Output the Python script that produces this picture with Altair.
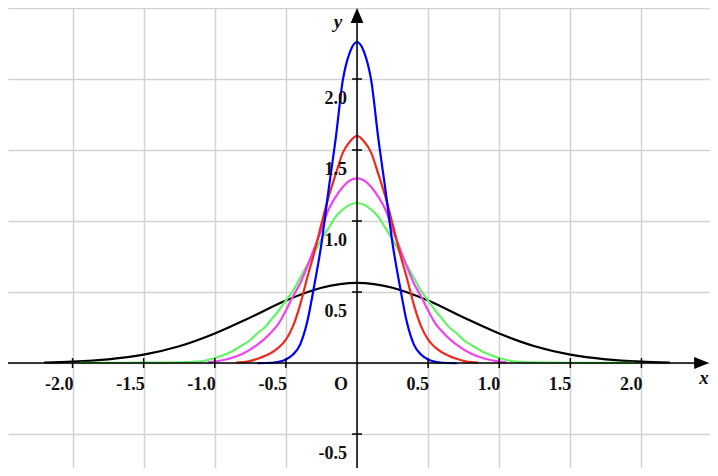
import altair as alt
import pandas as pd

# ---- curve data (right half; curves are symmetric) ----
blue_x = [0, 0.05, 0.10, 0.15, 0.20, 0.25, 0.30, 0.35, 0.40, 0.45, 0.50, 0.55, 0.60, 0.70]
blue_y = [2.26, 2.19, 1.99, 1.58, 1.22, 0.84, 0.55, 0.29, 0.13, 0.06, 0.025, 0.008, 0.002, 0.0]

red_x = [0, 0.05, 0.10, 0.15, 0.20, 0.25, 0.30, 0.35, 0.40, 0.45, 0.50, 0.55, 0.60, 0.70, 0.77, 0.85]
red_y = [1.60, 1.56, 1.48, 1.33, 1.17, 0.98, 0.78, 0.60, 0.41, 0.26, 0.165, 0.11, 0.074, 0.03, 0.01, 0.003]

magenta_x = [0, 0.05, 0.10, 0.15, 0.20, 0.25, 0.30, 0.35, 0.40, 0.45, 0.50, 0.55, 0.60, 0.65, 0.70, 0.80, 0.90, 1.00, 1.05]
magenta_y = [1.30, 1.285, 1.24, 1.17, 1.08, 0.94, 0.81, 0.68, 0.56, 0.47, 0.37, 0.28, 0.22, 0.17, 0.13, 0.067, 0.03, 0.01, 0.005]

green_x = [0, 0.05, 0.10, 0.15, 0.20, 0.25, 0.30, 0.35, 0.40, 0.45, 0.50, 0.55, 0.60, 0.65, 0.70, 0.75, 0.80, 0.90, 1.00, 1.10, 1.30, 1.60, 1.95]
green_y = [1.127, 1.115, 1.08, 1.03, 0.95, 0.87, 0.78, 0.69, 0.60, 0.51, 0.44, 0.37, 0.31, 0.25, 0.21, 0.162, 0.13, 0.072, 0.035, 0.012, 0.004, 0.002, 0.001]

black_x = [0, 0.25, 0.50, 0.75, 1.00, 1.25, 1.50, 1.75, 2.00, 2.20]
black_y = [0.564, 0.530, 0.440, 0.321, 0.208, 0.118, 0.059, 0.026, 0.010, 0.004]

series = [
    ("black", black_x, black_y, "#000000"),
    ("green", green_x, green_y, "#66f266"),
    ("magenta", magenta_x, magenta_y, "#ee44ee"),
    ("red", red_x, red_y, "#ee2a1e"),
    ("blue", blue_x, blue_y, "#0000ff"),
]

grid_vals = [-2.5, -2.0, -1.5, -1.0, -0.5, 0.0, 0.5, 1.0, 1.5, 2.0, 2.5]
x_tick_vals = [-2.0, -1.5, -1.0, -0.5, 0.5, 1.0, 1.5, 2.0]
x_tick_text = ["-2.0", "-1.5", "-1.0", "-0.5", "0.5", "1.0", "1.5", "2.0"]
y_tick_vals = [-0.5, 0.5, 1.0, 1.5, 2.0]
y_tick_text = ["-0.5", "0.5", "1.0", "1.5", "2.0"]

XMIN, XMAX = -2.454, 2.482
YMIN, YMAX = -0.739, 2.5
W, H = 702, 460

xs = alt.Scale(domain=[XMIN, XMAX], nice=False, zero=False)
ys = alt.Scale(domain=[YMIN, YMAX], nice=False, zero=False)
grid_axis = alt.Axis(values=grid_vals, grid=True, gridColor="#d2d2d2", gridWidth=1.5,
                     labels=False, ticks=False, domain=False, title=None)

FONT = "Liberation Serif"

layers = []
first = True
for name, hx, hy, col in series:
    xx = [-v for v in reversed(hx[1:])] + hx
    yy = list(reversed(hy[1:])) + hy
    df = pd.DataFrame({"x": xx, "y": yy})
    if first:
        enc_x = alt.X("x:Q", scale=xs, axis=grid_axis)
        enc_y = alt.Y("y:Q", scale=ys, axis=grid_axis)
        first = False
    else:
        enc_x = alt.X("x:Q", scale=xs)
        enc_y = alt.Y("y:Q", scale=ys)
    layers.append(
        alt.Chart(df).mark_line(color=col, strokeWidth=2.2, interpolate="monotone", clip=True)
        .encode(x=enc_x, y=enc_y, order="x:Q")
    )

# axis lines
xaxis_df = pd.DataFrame({"x": [XMIN], "x2": [2.40], "y": [0.0]})
yaxis_df = pd.DataFrame({"x": [0.0], "y": [YMIN], "y2": [2.44]})
axis_x = alt.Chart(xaxis_df).mark_rule(color="black", strokeWidth=1.5).encode(
    x=alt.X("x:Q", scale=xs), x2="x2:Q", y=alt.Y("y:Q", scale=ys))
axis_y = alt.Chart(yaxis_df).mark_rule(color="black", strokeWidth=1.5).encode(
    x=alt.X("x:Q", scale=xs), y=alt.Y("y:Q", scale=ys), y2="y2:Q")

# arrow heads
arr_r = alt.Chart(pd.DataFrame({"x": [2.423], "y": [0.0]})).mark_point(
    shape="M1,0L-1,-0.8L-1,0.8Z", filled=True, size=225, color="black", opacity=1, strokeWidth=0
).encode(x=alt.X("x:Q", scale=xs), y=alt.Y("y:Q", scale=ys))
arr_u = alt.Chart(pd.DataFrame({"x": [0.0], "y": [2.447]})).mark_point(
    shape="M0,-1L-0.85,1L0.85,1Z", filled=True, size=225, color="black", opacity=1, strokeWidth=0
).encode(x=alt.X("x:Q", scale=xs), y=alt.Y("y:Q", scale=ys))

# tick marks
xt_df = pd.DataFrame({"x": x_tick_vals, "y": [-0.035] * len(x_tick_vals), "y2": [0.035] * len(x_tick_vals),
                      "t": x_tick_text, "y0": [0.0] * len(x_tick_vals)})
yt_df = pd.DataFrame({"y": y_tick_vals, "x": [-0.035] * len(y_tick_vals), "x2": [0.035] * len(y_tick_vals),
                      "t": y_tick_text, "x0": [0.0] * len(y_tick_vals)})
xticks = alt.Chart(xt_df).mark_rule(color="black", strokeWidth=1.5).encode(
    x=alt.X("x:Q", scale=xs), y=alt.Y("y:Q", scale=ys), y2="y2:Q")
yticks = alt.Chart(yt_df).mark_rule(color="black", strokeWidth=1.5).encode(
    y=alt.Y("y:Q", scale=ys), x=alt.X("x:Q", scale=xs), x2="x2:Q")

# tick labels
xlab = alt.Chart(xt_df).mark_text(font=FONT, fontWeight="bold", fontSize=18, color="#111111",
                                  align="right", baseline="alphabetic", dy=27, dx=1).encode(
    x=alt.X("x:Q", scale=xs), y=alt.Y("y0:Q", scale=ys), text="t:N")
ylab = alt.Chart(yt_df).mark_text(font=FONT, fontWeight="bold", fontSize=18, color="#111111",
                                  align="right", baseline="alphabetic", dx=-10, dy=25).encode(
    x=alt.X("x0:Q", scale=xs), y=alt.Y("y:Q", scale=ys), text="t:N")

origin = alt.Chart(pd.DataFrame({"x": [0.0], "y": [0.0], "t": ["O"]})).mark_text(
    font=FONT, fontWeight="bold", fontSize=18, color="#111111", align="right", baseline="alphabetic",
    dx=-9, dy=27).encode(x=alt.X("x:Q", scale=xs), y=alt.Y("y:Q", scale=ys), text="t:N")

axis_names = alt.Chart(pd.DataFrame({"x": [2.44, -0.134], "y": [-0.148, 2.36], "t": ["x", "y"]})).mark_text(
    font=FONT, fontWeight="bold", fontStyle="italic", fontSize=19, color="#111111",
    align="center", baseline="alphabetic").encode(
    x=alt.X("x:Q", scale=xs), y=alt.Y("y:Q", scale=ys), text="t:N")

chart = alt.layer(*layers, axis_x, axis_y, xticks, yticks, arr_r, arr_u, xlab, ylab, origin, axis_names).properties(
    width=W, height=H, padding=0, autosize=alt.AutoSizeParams(type="none"),
    background="white"
).configure_view(stroke=None)

chart.save("out.html", embed_options={"renderer": "svg", "actions": False})
